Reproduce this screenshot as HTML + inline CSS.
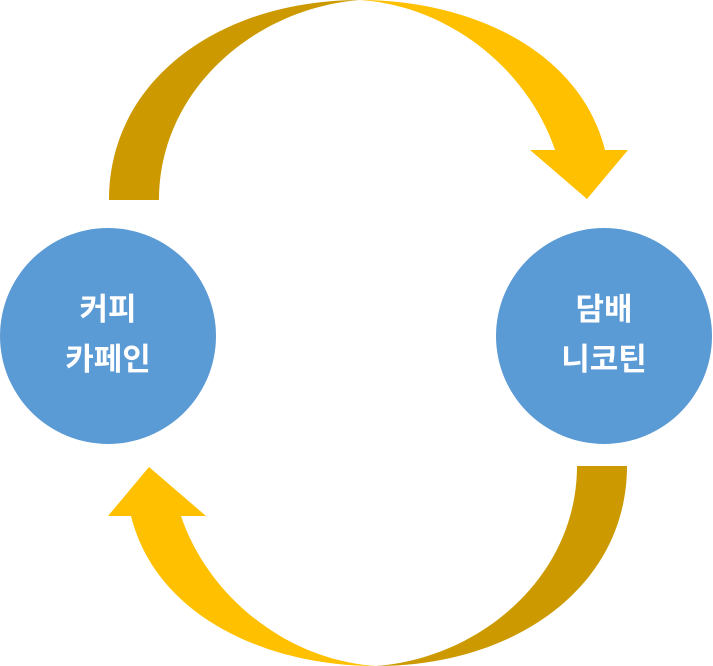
<!DOCTYPE html>
<html><head><meta charset="utf-8"><style>
html,body{margin:0;padding:0;background:#fff;}
svg{display:block}
text{font-family:"Liberation Sans","Noto Sans CJK KR",sans-serif;font-weight:bold;fill:#fff;font-size:31px}
</style></head><body>
<svg width="713" height="666" viewBox="0 0 713 666">
<g id="arr">
<path d="M109,200 C109,80 220,0 360,0 C255,8 159,90 159,200 Z" fill="#CC9A00"/>
<path d="M360,0 C470,0 580,50 605,150 L628,150 L587,199 L530,150 L555,150 C528,70 450,6 360,0 Z" fill="#FFC000"/>
</g>
<g transform="rotate(180 368 333)">
<path d="M109,200 C109,80 220,0 360,0 C255,8 159,90 159,200 Z" fill="#CC9A00"/>
<path d="M360,0 C470,0 580,50 605,150 L628,150 L587,199 L530,150 L555,150 C528,70 450,6 360,0 Z" fill="#FFC000"/>
</g>
<circle cx="108" cy="336" r="108" fill="#5B9BD5"/>
<circle cx="604" cy="336" r="108" fill="#5B9BD5"/>
<text x="108" y="320" text-anchor="middle">커피</text>
<text x="108" y="370" text-anchor="middle">카페인</text>
<text x="604" y="320" text-anchor="middle">담배</text>
<text x="604" y="370" text-anchor="middle">니코틴</text>
</svg>
</body></html>
